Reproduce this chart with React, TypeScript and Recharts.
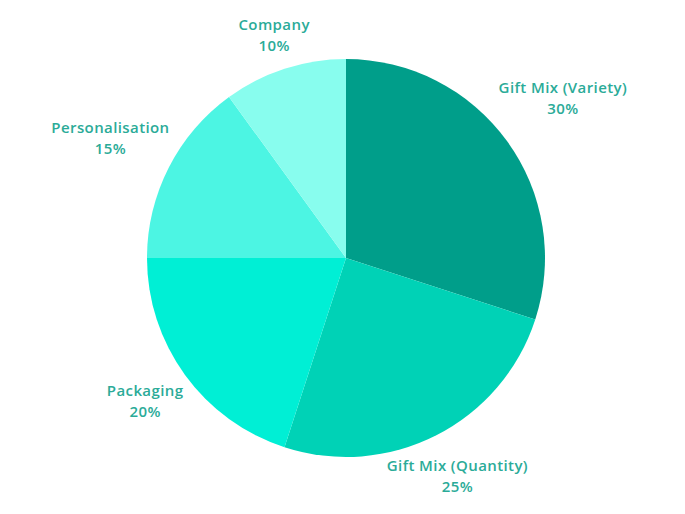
import React from "react";
import { PieChart, Pie, Cell } from "recharts";

const categories = ["Gift Mix (Variety)", "Gift Mix (Quantity)", "Packaging", "Personalisation", "Company"];
const shares = [30, 25, 20, 15, 10];
const colors = ["#009e8a", "#00d2b6", "#00efd5", "#4cf5e3", "#88fdee"];

const data = categories.map((name, i) => ({ name, value: shares[i] }));

const RAD = Math.PI / 180;
// small per-label nudges (px) to mimic the reference's label placement
const nudge: Record<string, [number, number]> = {
  "Gift Mix (Variety)": [13, -13],
  "Gift Mix (Quantity)": [-3, -8],
  "Packaging": [3, -6],
  "Personalisation": [-11, -7],
  "Company": [6, 16],
};

const renderLabel = (props: any) => {
  const { cx, cy, midAngle, outerRadius, name, value } = props;
  const d = outerRadius + 53;
  const n = nudge[name] || [0, 0];
  const x = cx + d * Math.cos(-midAngle * RAD) + n[0];
  const y = cy + d * Math.sin(-midAngle * RAD) + n[1];
  return (
    <text
      x={x}
      y={y}
      textAnchor="middle"
      fill="#2bab98"
      fontFamily="'Open Sans', sans-serif"
      fontWeight={600}
      fontSize={15}
      letterSpacing={0.4}
    >
      <tspan x={x} dy={-4}>{name}</tspan>
      <tspan x={x} dy={21}>{`${value}%`}</tspan>
    </text>
  );
};

export default function App() {
  return (
    <div style={{ position: "absolute", left: 0, top: 0, width: 685, height: 514, background: "#fff" }}>
      <PieChart width={685} height={514} margin={{ top: 0, right: 0, bottom: 0, left: 0 }}>
        <Pie
          data={data}
          dataKey="value"
          nameKey="name"
          cx={346}
          cy={258}
          outerRadius={199}
          startAngle={90}
          endAngle={-270}
          stroke="none"
          label={renderLabel}
          labelLine={false}
          isAnimationActive={false}
        >
          {data.map((d, i) => (
            <Cell key={d.name} fill={colors[i]} />
          ))}
        </Pie>
      </PieChart>
    </div>
  );
}
